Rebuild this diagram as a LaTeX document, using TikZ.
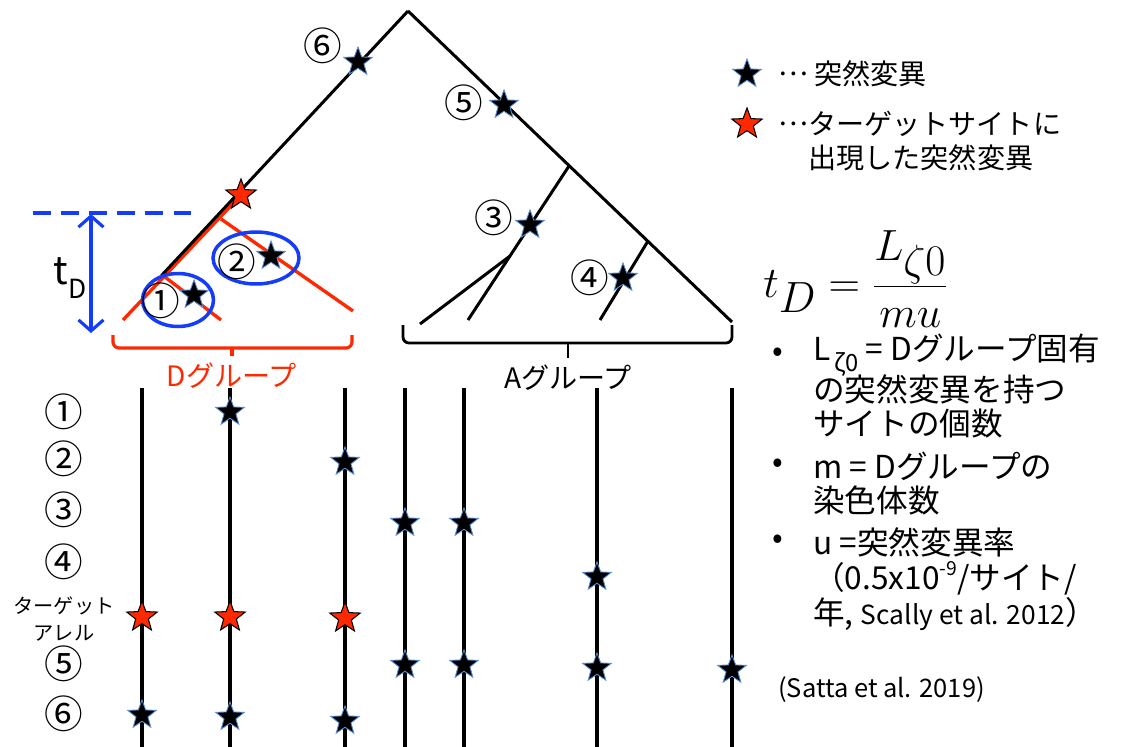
\documentclass[tikz,border=0pt]{standalone}
\usepackage{fontspec}
\setmainfont{Noto Sans CJK JP}
\usetikzlibrary{shapes.geometric,arrows.meta,calc}
\definecolor{myred}{RGB}{255,40,0}
\definecolor{myblue}{RGB}{20,60,250}
\definecolor{starblue}{RGB}{90,140,210}
\newcommand{\cdotsell}{\raisebox{0.32em}{…}}
\begin{document}
\begin{tikzpicture}[x=0.02cm,y=-0.02cm,
  bstar/.style={star, star points=5, star point ratio=2.4, fill=black, draw=starblue, line width=0.5pt, minimum size=0.6cm, inner sep=0pt},
  rstar/.style={star, star points=5, star point ratio=2.4, fill=myred, draw=black, line width=0.6pt, minimum size=0.64cm, inner sep=0pt},
  vline/.style={line width=2.3pt},
  branch/.style={line width=1.7pt},
  redline/.style={myred, line width=1.9pt},
  numlbl/.style={font=\fontsize{22}{24}\selectfont, inner sep=0pt},
  txt/.style={font=\fontsize{18}{20}\selectfont, inner sep=0pt, anchor=west},
  legtxt/.style={font=\fontsize{16}{18}\selectfont, inner sep=0pt, anchor=west},
  blueoval/.style={ellipse, draw=myblue, line width=2pt, inner sep=0pt}
]
\useasboundingbox (0,0) rectangle (1126,747);

% ---------- tree coordinates ----------
\coordinate (apex) at (408,11);
\coordinate (dleft) at (123,320);
\coordinate (jblk) at (163,277);
\coordinate (j1) at (221,219);
\coordinate (d2end) at (353,311);
\coordinate (j2) at (165,277);
\coordinate (d1end) at (221,320);
\coordinate (aright) at (732,322);
\coordinate (j3) at (569,166);
\coordinate (a3end) at (468,320);
\coordinate (j3b) at (510,256);
\coordinate (a3bend) at (420,324);
\coordinate (j4) at (648,241);
\coordinate (a4end) at (600,320);
\coordinate (redtop) at (241,195);

% red part of D group
\draw[redline] (redtop) -- (dleft);
\draw[redline] (j1) -- (d2end);
\draw[redline] (j2) -- (d1end);
% black tree lines
\draw[branch] (apex) -- ($(jblk)+(-1.5,-1.5)$);
\draw[branch] (apex) -- (aright);
\draw[branch] (j3) -- (a3end);
\draw[branch] (j3b) -- (a3bend);
\draw[branch] (j4) -- (a4end);

% blue ellipses
\node[blueoval, minimum width=1.42cm, minimum height=1.06cm] (e1) at (178,300) {};
\node[blueoval, minimum width=1.72cm, minimum height=1.04cm] (e2) at (256,258) {};

% tree stars
\node[bstar] (s6) at (358,62) {};
\node[bstar] (s5) at (504,105) {};
\node[rstar] (sr) at (241,195) {};
\node[bstar] (s1) at (194,295) {};
\node[bstar] (s2) at (271,256) {};
\node[bstar] (s3) at (530,225) {};
\node[bstar] (s4) at (623,278) {};

% tree labels
\node[numlbl] (l6) at (323,46) {⑥};
\node[numlbl] (l5) at (464,103) {⑤};
\node[numlbl] (l3) at (494,218) {③};
\node[numlbl] (l4) at (590,278) {④};
\node[numlbl] (l1) at (161,301) {①};
\node[numlbl] (l2) at (237,262) {②};

% t_D bracket
\coordinate (dash1) at (33,213);
\coordinate (dash2) at (200,213);
\draw[myblue, line width=1.8pt, dash pattern=on 10pt off 6pt] (dash1) -- (dash2);
\coordinate (arrT) at (91,214);
\coordinate (arrB) at (91,333);
\draw[myblue, line width=1.8pt, {Straight Barb[length=2.2mm,width=5mm]}-{Straight Barb[length=2.2mm,width=5mm]}] (arrT) -- (arrB);
\node[font=\fontsize{22}{24}\selectfont, inner sep=0pt] (td) at (70,278) {t\raisebox{-0.35em}{\fontsize{15}{16}\selectfont D}};

% braces
\coordinate (rb1) at (113,335);
\coordinate (rb2) at (352,335);
\coordinate (rbm) at (232,348);
\coordinate (rbt) at (232,356);
\draw[myred, line width=1.8pt, rounded corners=1.2mm] (rb1) -- (113,348) -- (352,348) -- (rb2);
\draw[myred, line width=1.8pt] (rbm) -- (rbt);
\node[font=\fontsize{16}{18}\selectfont, text=myred, inner sep=0pt] (dg) at (232,376) {Dグループ};

\coordinate (ab1) at (403,325);
\coordinate (ab2) at (732,325);
\coordinate (abm) at (568,343);
\coordinate (abt) at (568,358);
\draw[line width=1.6pt, rounded corners=1.2mm] (ab1) -- (403,343) -- (732,343) -- (ab2);
\draw[line width=1.6pt] (abm) -- (abt);
\node[font=\fontsize{16}{18}\selectfont, inner sep=0pt] (ag) at (568,378) {Aグループ};

% vertical lines
\foreach \i/\x in {1/142,2/230,3/345,4/405,5/464,6/597,7/732} {
  \coordinate (v\i t) at (\x,388);
  \coordinate (v\i b) at (\x,747);
  \draw[vline] (v\i t) -- (v\i b);
}

% stars on lines
\node[bstar] (a21) at (230,412) {};
\node[bstar] (a32) at (345,462) {};
\node[bstar] (a43) at (405,523) {};
\node[bstar] (a53) at (464,523) {};
\node[bstar] (a64) at (597,577) {};
\node[rstar] (r1) at (142,617) {};
\node[rstar] (r2) at (230,617) {};
\node[rstar] (r3) at (345,618) {};
\node[bstar] (a45) at (405,665) {};
\node[bstar] (a55) at (464,665) {};
\node[bstar] (a65) at (597,668) {};
\node[bstar] (a75) at (732,670) {};
\node[bstar] (a16) at (142,715) {};
\node[bstar] (a26) at (230,717) {};
\node[bstar] (a36) at (345,721) {};

% row labels
\node[numlbl] (rl1) at (64,412) {①};
\node[numlbl] (rl2) at (64,459) {②};
\node[numlbl] (rl3) at (64,510) {③};
\node[numlbl] (rl4) at (64,562) {④};
\node[font=\fontsize{11.5}{13}\selectfont, inner sep=0pt] (rlt1) at (64,606) {ターゲット};
\node[font=\fontsize{11.5}{13}\selectfont, inner sep=0pt] (rlt2) at (64,633) {アレル};
\node[numlbl] (rl5) at (64,664) {⑤};
\node[numlbl] (rl6) at (64,714) {⑥};

% legend
\node[bstar] (lg1) at (747,74) {};
\node[rstar] (lg2) at (747,124) {};
\node[legtxt] (lt1) at (778,74) {\cdotsell\ 突然変異};
\node[legtxt] (lt2) at (778,124) {\cdotsell ターゲットサイトに};
\node[legtxt] (lt3) at (808,158) {出現した突然変異};

% formula
\node[inner sep=0pt, anchor=west] (eq) at (763,279) {\fontsize{35}{40}\selectfont $\displaystyle t_D = \frac{L_{\zeta 0}}{mu}$};

% bullets
\node[txt] (b1) at (772,355) {•};
\node[txt] (t1a) at (813,355) {L\raisebox{-0.35em}{\fontsize{13.5}{14}\selectfont\,ζ0} = Dグループ固有};
\node[txt] (t1b) at (813,389) {の突然変異を持つ};
\node[txt] (t1c) at (813,424) {サイトの個数};
\node[txt] (b2) at (772,466) {•};
\node[txt] (t2a) at (813,466) {m = Dグループの};
\node[txt] (t2b) at (813,500) {染色体数};
\node[txt] (b3) at (772,542) {•};
\node[txt] (t3a) at (813,542) {u =突然変異率};
\node[txt] (t3b) at (813,578) {（0.5x10\raisebox{0.45em}{\fontsize{11}{12}\selectfont -9}/サイト/};
\node[txt] (t3c) at (813,614) {年, {\fontsize{15}{17}\selectfont Scally et al. 2012}）};
\node[font=\fontsize{14.5}{16}\selectfont, inner sep=0pt, anchor=west] (cite) at (778,690) {(Satta et al. 2019)};
\end{tikzpicture}
\end{document}
